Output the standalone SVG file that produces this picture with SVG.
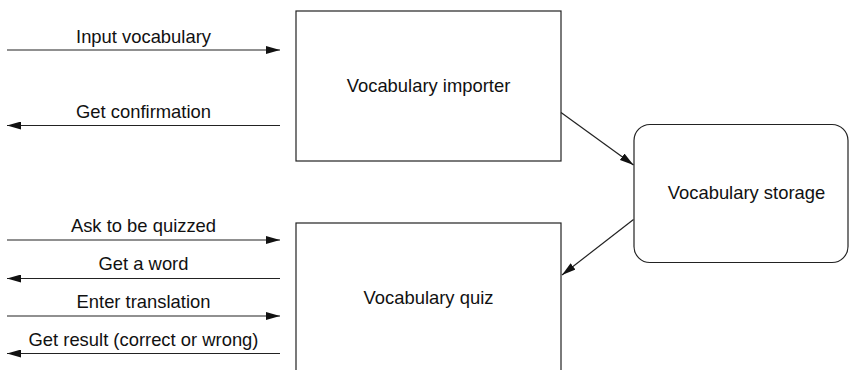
<svg xmlns="http://www.w3.org/2000/svg" width="849" height="370" viewBox="0 0 849 370">
<style>
.box{fill:#fff;stroke:#222;stroke-width:1.2}
.ln{stroke:#222;stroke-width:1.2;fill:none}
.t{font-family:"Liberation Sans",Arial,sans-serif;font-size:18.4px;fill:#111;text-anchor:middle}
</style>
<defs>
<marker id="ah" viewBox="0 0 14 8" refX="14" refY="4" markerWidth="14" markerHeight="8" markerUnits="userSpaceOnUse" orient="auto">
<path d="M0,0 L14,4 L0,8 Z" fill="#111"/>
</marker>
</defs>
<rect width="849" height="370" fill="#fff"/>
<g id="importer">
<rect class="box" x="296" y="11" width="265" height="150"/>
<text class="t" x="428.5" y="92">Vocabulary importer</text>
</g>
<g id="quiz">
<rect class="box" x="296" y="223" width="265" height="155"/>
<text class="t" x="428.5" y="304">Vocabulary quiz</text>
</g>
<g id="storage">
<rect class="box" x="634" y="124.5" width="214" height="138" rx="16" ry="16"/>
<text class="t" x="746.5" y="199">Vocabulary storage</text>
</g>
<g id="connectors">
<line class="ln" x1="7" y1="50" x2="280" y2="50" marker-end="url(#ah)"/>
<line class="ln" x1="280" y1="125.5" x2="7" y2="125.5" marker-end="url(#ah)"/>
<line class="ln" x1="7" y1="240" x2="280" y2="240" marker-end="url(#ah)"/>
<line class="ln" x1="280" y1="278.5" x2="7" y2="278.5" marker-end="url(#ah)"/>
<line class="ln" x1="7" y1="316" x2="280" y2="316" marker-end="url(#ah)"/>
<line class="ln" x1="280" y1="353.5" x2="7" y2="353.5" marker-end="url(#ah)"/>
<line class="ln" x1="561" y1="112.5" x2="633.5" y2="165" marker-end="url(#ah)"/>
<line class="ln" x1="633.5" y1="219.5" x2="562" y2="275" marker-end="url(#ah)"/>
</g>
<g id="labels">
<text class="t" x="143.5" y="42.5">Input vocabulary</text>
<text class="t" x="143.5" y="117.5">Get confirmation</text>
<text class="t" x="143.5" y="231.5">Ask to be quizzed</text>
<text class="t" x="143.5" y="270">Get a word</text>
<text class="t" x="143.5" y="307.5">Enter translation</text>
<text class="t" x="143.5" y="345.5">Get result (correct or wrong)</text>
</g>
</svg>
